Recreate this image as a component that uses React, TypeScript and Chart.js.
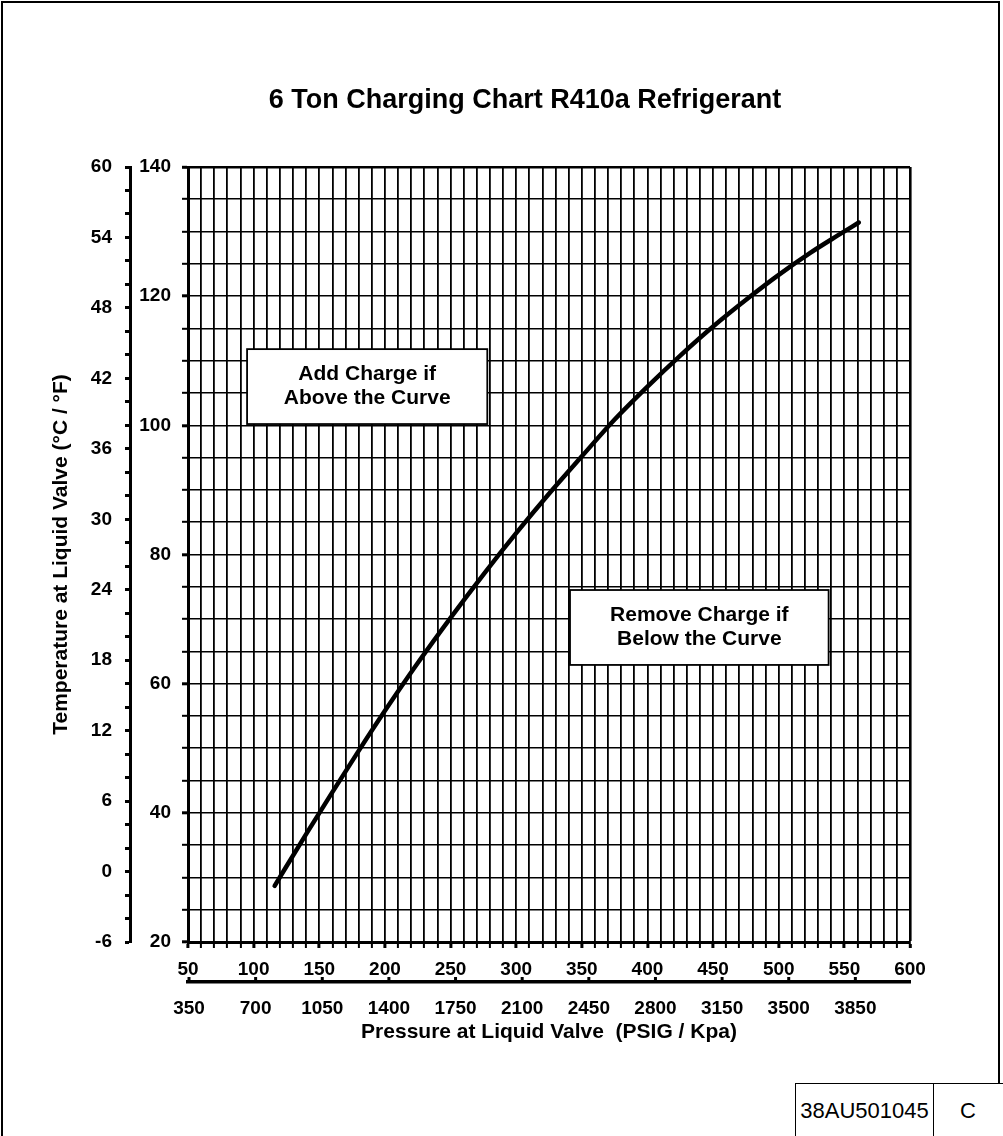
import React, { useEffect, useRef } from "react";
import { Chart, registerables } from "chart.js";

Chart.register(...registerables);

// Curve (PSIG vs °F)
const PRESSURE_PSIG = [116, 140, 160, 180, 200, 225, 250, 275, 300, 325, 350, 375, 400, 425, 450, 478, 500, 524, 545, 561];
const TEMP_F = [28.7, 36.7, 43.2, 49.6, 55.8, 63.2, 70.2, 76.9, 83.3, 89.4, 95.2, 100.9, 106.0, 110.8, 115.3, 119.9, 123.3, 126.7, 129.4, 131.4];

// Axis labels
const PSIG_LABELS = [50, 100, 150, 200, 250, 300, 350, 400, 450, 500, 550, 600];
const KPA_LABELS = [350, 700, 1050, 1400, 1750, 2100, 2450, 2800, 3150, 3500, 3850];
const F_LABELS = [20, 40, 60, 80, 100, 120, 140];
const C_LABELS = [-6, 0, 6, 12, 18, 24, 30, 36, 42, 48, 54, 60];

const TITLE = "6 Ton Charging Chart R410a Refrigerant";
const Y_TITLE = "Temperature at Liquid Valve (°C / °F)";
const X_TITLE = "Pressure at Liquid Valve  (PSIG / Kpa)";
const ADD_NOTE = ["Add Charge if", "Above the Curve"];
const REMOVE_NOTE = ["Remove Charge if", "Below the Curve"];
const DOC_NUMBER = "38AU501045";
const DOC_REV = "C";

// note boxes, in data units (PSIG / °F)
const ADD_BOX = { xMin: 95, xMax: 278, yMin: 100.2, yMax: 111.8 };
const REMOVE_BOX = { xMin: 341, xMax: 538, yMin: 62.9, yMax: 74.5 };

const KPA_PER_PSI = 6.895;
const FONT = "'Liberation Sans', Arial, Helvetica, sans-serif";

function steps(min: number, max: number, step: number) {
  const out: { value: number }[] = [];
  for (let v = min; v <= max + 1e-9; v += step) out.push({ value: Math.round(v * 1000) / 1000 });
  return out;
}

const notesPlugin = {
  id: "notes",
  afterDraw(chart: any) {
    const { ctx } = chart;
    const x = chart.scales.x;
    const y = chart.scales.y;
    const boxes: [typeof ADD_BOX, string[]][] = [
      [ADD_BOX, ADD_NOTE],
      [REMOVE_BOX, REMOVE_NOTE],
    ];
    boxes.forEach(([b, lines]) => {
      const l = x.getPixelForValue(b.xMin);
      const r = x.getPixelForValue(b.xMax);
      const t = y.getPixelForValue(b.yMax);
      const btm = y.getPixelForValue(b.yMin);
      ctx.save();
      ctx.fillStyle = "#fff";
      ctx.fillRect(l, t, r - l, btm - t);
      ctx.strokeStyle = "#000";
      ctx.lineWidth = 1.8;
      ctx.strokeRect(l, t, r - l, btm - t);
      ctx.fillStyle = "#000";
      ctx.font = `bold 21px ${FONT}`;
      ctx.textAlign = "center";
      ctx.textBaseline = "middle";
      const cx = (l + r) / 2;
      const cy = (t + btm) / 2;
      ctx.fillText(lines[0], cx, cy - 12);
      ctx.fillText(lines[1], cx, cy + 12);
      ctx.restore();
    });
    // upward ticks on the kPa line
    const x2 = chart.scales.x2;
    ctx.save();
    ctx.strokeStyle = "#000";
    ctx.lineWidth = 3;
    KPA_LABELS.forEach((v) => {
      const px = x2.getPixelForValue(v);
      ctx.beginPath();
      ctx.moveTo(px, x2.top);
      ctx.lineTo(px, x2.top - 5);
      ctx.stroke();
    });
    ctx.restore();
  },
};

export default function App() {
  const canvasRef = useRef<HTMLCanvasElement | null>(null);

  useEffect(() => {
    if (!canvasRef.current) return;
    const tickFont = { family: FONT, size: 19, weight: "bold" as const };
    const titleFont = { family: FONT, size: 21, weight: "bold" as const };
    const edgeWidth = (max: number, base: number) => (ctx: any) =>
      ctx.tick && ctx.tick.value === max ? 2.6 : base;
    const chart = new Chart(canvasRef.current, {
      type: "line",
      data: {
        datasets: [
          {
            data: PRESSURE_PSIG.map((p, i) => ({ x: p, y: TEMP_F[i] })),
            borderColor: "#000",
            borderWidth: 4.5,
            borderCapStyle: "round",
            pointRadius: 0,
            cubicInterpolationMode: "monotone",
            xAxisID: "x",
            yAxisID: "y",
          },
        ],
      },
      options: {
        responsive: false,
        animation: false,
        layout: { padding: { left: 49, right: 2, top: 0, bottom: 91 } },
        plugins: {
          legend: { display: false },
          tooltip: { enabled: false },
          title: {
            display: true,
            text: TITLE,
            color: "#000",
            font: { family: FONT, size: 27, weight: "bold" },
            padding: { top: 84, bottom: 50.6 },
          },
        },
        scales: {
          x: {
            type: "linear",
            position: "bottom",
            min: 50,
            max: 600,
            afterBuildTicks: (s: any) => {
              s.ticks = steps(50, 600, 10);
            },
            afterFit: (s: any) => {
              s.height = 40;
            },
            ticks: {
              autoSkip: false,
              maxRotation: 0,
              color: "#000",
              font: tickFont,
              padding: 10,
              callback: (v: any) => (PSIG_LABELS.includes(Number(v)) ? String(v) : ""),
            },
            grid: {
              color: "#000",
              lineWidth: edgeWidth(600, 1.8),
              tickLength: 6,
              tickWidth: (ctx: any) => (ctx.tick && ctx.tick.value % 50 === 0 ? 3 : 2),
            },
            border: { display: true, color: "#000", width: 3 },
          },
          x2: {
            type: "linear",
            position: "bottom",
            min: 50 * KPA_PER_PSI,
            max: 600 * KPA_PER_PSI,
            afterBuildTicks: (s: any) => {
              s.ticks = KPA_LABELS.map((v) => ({ value: v }));
            },
            afterFit: (s: any) => {
              s.height = 63;
            },
            ticks: {
              autoSkip: false,
              maxRotation: 0,
              color: "#000",
              font: tickFont,
              padding: 15,
              callback: (v: any) => String(v),
            },
            grid: { drawOnChartArea: false, drawTicks: false },
            border: { display: true, color: "#000", width: 3.5 },
            title: {
              display: true,
              text: X_TITLE,
              color: "#000",
              font: titleFont,
              padding: { top: 0, bottom: 0 },
            },
          },
          y: {
            type: "linear",
            position: "left",
            min: 20,
            max: 140,
            afterBuildTicks: (s: any) => {
              s.ticks = steps(20, 140, 5);
            },
            afterFit: (s: any) => {
              s.width = 58;
            },
            ticks: {
              autoSkip: false,
              color: "#000",
              font: tickFont,
              padding: 11,
              callback: (v: any) => (F_LABELS.includes(Number(v)) ? String(v) : ""),
            },
            grid: {
              color: "#000",
              lineWidth: edgeWidth(140, 1.6),
              tickLength: 6,
              tickWidth: (ctx: any) => (ctx.tick && ctx.tick.value % 20 === 0 ? 3 : 2),
            },
            border: { display: true, color: "#000", width: 3 },
          },
          y2: {
            type: "linear",
            position: "left",
            min: -6,
            max: 60,
            afterBuildTicks: (s: any) => {
              s.ticks = steps(-6, 60, 2);
            },
            afterFit: (s: any) => {
              s.width = 81;
            },
            ticks: {
              autoSkip: false,
              color: "#000",
              font: tickFont,
              padding: 13,
              callback: (v: any) => (C_LABELS.includes(Number(v)) ? String(v) : ""),
            },
            grid: {
              drawOnChartArea: false,
              color: "#000",
              tickLength: 5,
              tickWidth: 3,
            },
            border: { display: true, color: "#000", width: 3 },
            title: {
              display: true,
              text: Y_TITLE,
              color: "#000",
              font: titleFont,
              padding: { top: 0, bottom: 0 },
            },
          },
          // empty right-hand margin so the title centres like the reference
          margin: {
            type: "linear",
            position: "right",
            display: true,
            grid: { display: false },
            ticks: { display: false },
            border: { display: false },
            afterFit: (s: any) => {
              s.width = 91;
            },
          },
        },
      } as any,
      plugins: [notesPlugin],
    });
    return () => chart.destroy();
  }, []);

  return (
    <div
      style={{
        position: "absolute",
        left: 0,
        top: 0,
        width: 1003,
        height: 1136,
        overflow: "hidden",
        background: "#fff",
        fontFamily: FONT,
      }}
    >
      <canvas ref={canvasRef} width={1003} height={1136} style={{ display: "block" }} />
      <div
        style={{
          position: "absolute",
          left: 1,
          top: 1,
          width: 999,
          height: 1200,
          border: "2px solid #000",
          boxSizing: "border-box",
          pointerEvents: "none",
        }}
      />
      <div
        style={{
          position: "absolute",
          left: 795,
          top: 1083,
          width: 220,
          height: 70,
          border: "1.5px solid #000",
          background: "#fff",
          boxSizing: "border-box",
        }}
      >
        <div
          style={{
            position: "absolute",
            left: 0,
            top: 0,
            width: 137,
            height: 53,
            borderRight: "1.5px solid #000",
            display: "flex",
            alignItems: "center",
            justifyContent: "center",
            fontSize: 22,
            color: "#000",
          }}
        >
          {DOC_NUMBER}
        </div>
        <div
          style={{
            position: "absolute",
            left: 137,
            top: 0,
            width: 70,
            height: 53,
            display: "flex",
            alignItems: "center",
            justifyContent: "center",
            fontSize: 22,
            color: "#000",
          }}
        >
          {DOC_REV}
        </div>
      </div>
    </div>
  );
}
